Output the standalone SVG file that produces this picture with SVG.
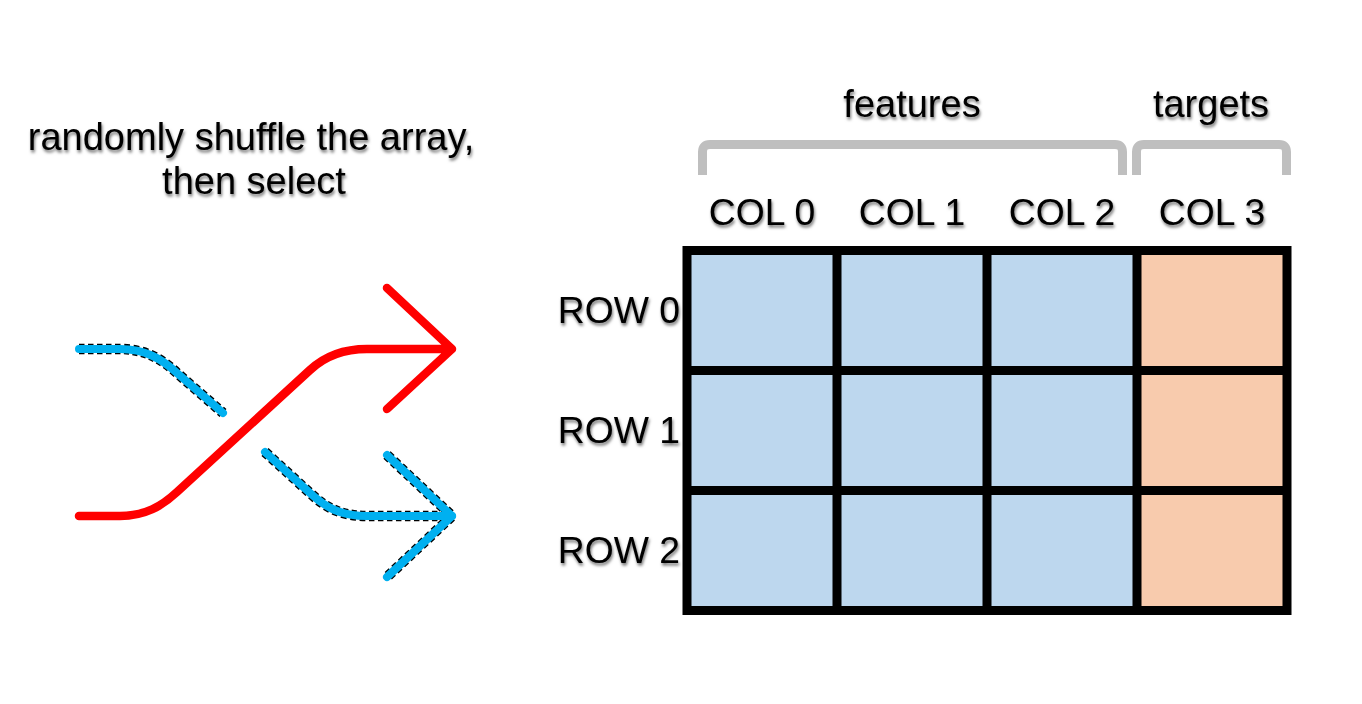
<svg xmlns="http://www.w3.org/2000/svg" width="1362" height="704" viewBox="0 0 1362 704">
<style>
text{font-family:"Liberation Sans",Arial,sans-serif;font-size:38px;fill:#000;text-anchor:middle;filter:url(#sh)}
.caps{font-size:37.300px}
.cell{stroke:none}
.b{fill:#bdd7ee}
.o{fill:#f8cbad}
.gl{stroke:#000;stroke-width:9;fill:none}
.br{stroke:#bfbfbf;stroke-width:9;fill:none}
.red{stroke:#f00;stroke-width:8.500;fill:none;stroke-linecap:round;stroke-linejoin:round}
.blue{stroke:#00b0f0;stroke-width:8;fill:none;stroke-linecap:round;stroke-linejoin:round}
.dash{stroke:#000;stroke-width:10.500;fill:none;stroke-dasharray:5.500 3.500;stroke-linejoin:round}
</style>
<defs>
<filter id="sh" x="-10%" y="-20%" width="120%" height="150%"><feDropShadow dx="1" dy="2.500" stdDeviation="1.600" flood-color="#000" flood-opacity="0.55"/></filter>
<path id="b1" d="M79 349H120C145 349 162 359 177 373L223 413"/>
<path id="b2" d="M265 452L310 493C325 507 340 516 367 516H452"/>
<path id="b3" d="M387 455L452 516L387 577"/>
</defs>
<g id="caption"><text x="251" y="150">randomly shuffle the array,</text><text x="254" y="194">then select</text></g>
<g id="connectors">
<path id="red-arrow" class="red" d="M79 516H120C145 516 162 506 177 492L310 370C325 356 343 349 367 349H452M387 288L452 349L387 409"/>
<g id="blue-arrow-top"><use href="#b1" class="dash"/><use href="#b1" class="blue"/></g>
<g id="blue-arrow-bottom"><use href="#b2" class="dash"/><use href="#b3" class="dash"/><use href="#b2" class="blue"/><use href="#b3" class="blue"/></g>
</g>
<g id="brace-features"><path class="br" d="M702.500 175V152Q702.500 144.500 710 144.500H1115Q1122.500 144.500 1122.500 152V175"/><text x="912" y="117">features</text></g>
<g id="brace-targets"><path class="br" d="M1136.500 175V152Q1136.500 144.500 1144 144.500H1279Q1286.500 144.500 1286.500 152V175"/><text x="1211" y="117">targets</text></g>
<g id="col-labels"><text class="caps" x="762" y="225">COL 0</text><text class="caps" x="912" y="225">COL 1</text><text class="caps" x="1062" y="225">COL 2</text><text class="caps" x="1212" y="225">COL 3</text></g>
<g id="row-labels"><text class="caps" x="619" y="323">ROW 0</text><text class="caps" x="619" y="443">ROW 1</text><text class="caps" x="619" y="563">ROW 2</text></g>
<g id="grid">
<rect id="features-cells" class="cell b" x="687" y="250" width="450" height="360"/>
<rect id="target-cells" class="cell o" x="1137" y="250" width="150" height="360"/>
<path class="gl" d="M682.500 250.500H1291.500M682.500 370.500H1291.500M682.500 490.500H1291.500M682.500 610.500H1291.500M687 246V615M837 246V615M987 246V615M1137 246V615M1287 246V615"/>
</g>
</svg>
